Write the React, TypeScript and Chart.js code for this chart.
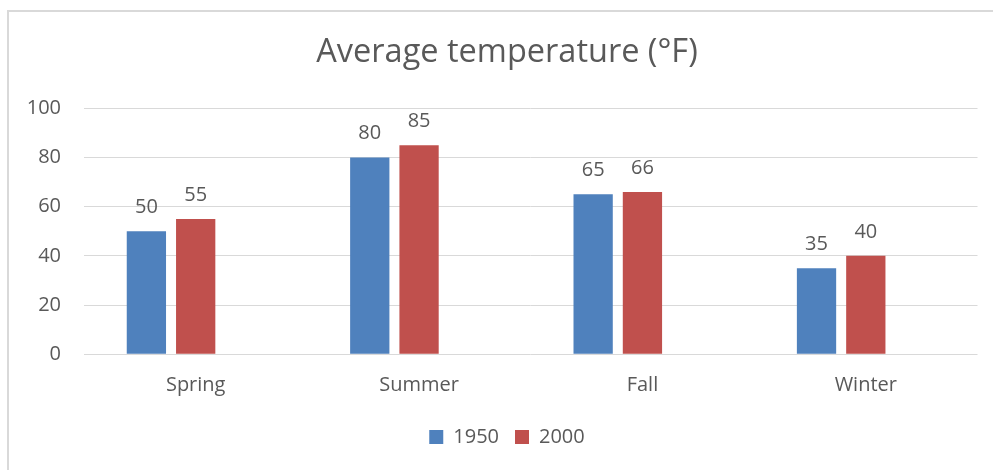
import React, { useEffect, useRef } from "react";
import { Chart, registerables } from "chart.js";

Chart.register(...registerables);

const categories = ["Spring", "Summer", "Fall", "Winter"];
const series1950 = [50, 80, 65, 35];
const series2000 = [55, 85, 66, 40];
const emptySeries = [null, null, null, null];
const seriesLabels = ["1950", "2000"];
const yMin = 0;
const yMax = 100;
const yStep = 20;

const FONT = "'Open Sans'";
const TEXT = "#595959";
const GRID = "#D9D9D9";

const valueLabels = {
  id: "valueLabels",
  afterDatasetsDraw(chart: any) {
    const ctx = chart.ctx;
    ctx.save();
    ctx.font = `20px ${FONT}`;
    ctx.fillStyle = TEXT;
    ctx.textAlign = "center";
    ctx.textBaseline = "alphabetic";
    [0, 1].forEach((di) => {
      const meta = chart.getDatasetMeta(di);
      const ds = chart.data.datasets[di];
      meta.data.forEach((bar: any, i: number) => {
        const v = ds.data[i];
        if (v == null) return;
        ctx.fillText(String(v), bar.x, bar.y - 18);
      });
    });
    ctx.restore();
  },
};

export default function App() {
  const ref = useRef<HTMLCanvasElement>(null);
  useEffect(() => {
    if (!ref.current) return;
    const chart = new Chart(ref.current, {
      type: "bar",
      data: {
        labels: categories,
        datasets: [
          { label: seriesLabels[0], data: series1950, backgroundColor: "#4F81BD" },
          { label: seriesLabels[1], data: series2000, backgroundColor: "#C0504D" },
          { label: "", data: emptySeries as any, backgroundColor: "#9BBB59" },
        ],
      },
      options: {
        animation: false,
        responsive: false,
        events: [],
        datasets: {
          bar: { categoryPercentage: 0.662, barPercentage: 0.797 },
        },
        layout: { padding: { left: 36.5, right: 15.5, top: 0, bottom: 13 } },
        plugins: {
          tooltip: { enabled: false },
          title: {
            display: true,
            text: "Average temperature (°F)",
            color: TEXT,
            font: { family: FONT, size: 32.5, weight: "normal" },
            padding: { top: 33.5, bottom: 35.8 },
          },
          legend: {
            position: "bottom",
            labels: {
              color: TEXT,
              font: { family: FONT, size: 20 },
              boxWidth: 14,
              boxHeight: 14,
              padding: 16,
              filter: (item: any) => item.text !== "",
            },
          },
        },
        scales: {
          x: {
            grid: { display: false },
            border: { display: false },
            ticks: {
              color: TEXT,
              font: { family: FONT, size: 20 },
              padding: 11,
            },
            afterFit(scale: any) {
              scale.height += 2.8;
            },
          },
          y: {
            min: yMin,
            max: yMax,
            grid: { color: GRID, lineWidth: 1, drawTicks: false },
            border: { display: false },
            ticks: {
              stepSize: yStep,
              color: TEXT,
              font: { family: FONT, size: 20 },
              padding: 23,
            },
            afterFit(scale: any) {
              scale.width = 47.5;
              // let the tick labels extend left of the axis box
              scale._computeLabelArea = () => undefined;
            },
          },
        },
      },
      plugins: [valueLabels],
    });
    return () => chart.destroy();
  }, []);

  return (
    <div
      style={{
        position: "absolute",
        left: 0,
        top: 0,
        width: 993,
        height: 470,
        overflow: "hidden",
        background: "#fff",
      }}
    >
      <div
        style={{
          position: "absolute",
          left: 7,
          top: 10,
          width: 1100,
          height: 600,
          borderTop: `2px solid ${GRID}`,
          borderLeft: `2px solid ${GRID}`,
        }}
      />
      <canvas
        ref={ref}
        width={993}
        height={470}
        style={{ position: "absolute", left: 0, top: 0, width: 993, height: 470 }}
      />
    </div>
  );
}
